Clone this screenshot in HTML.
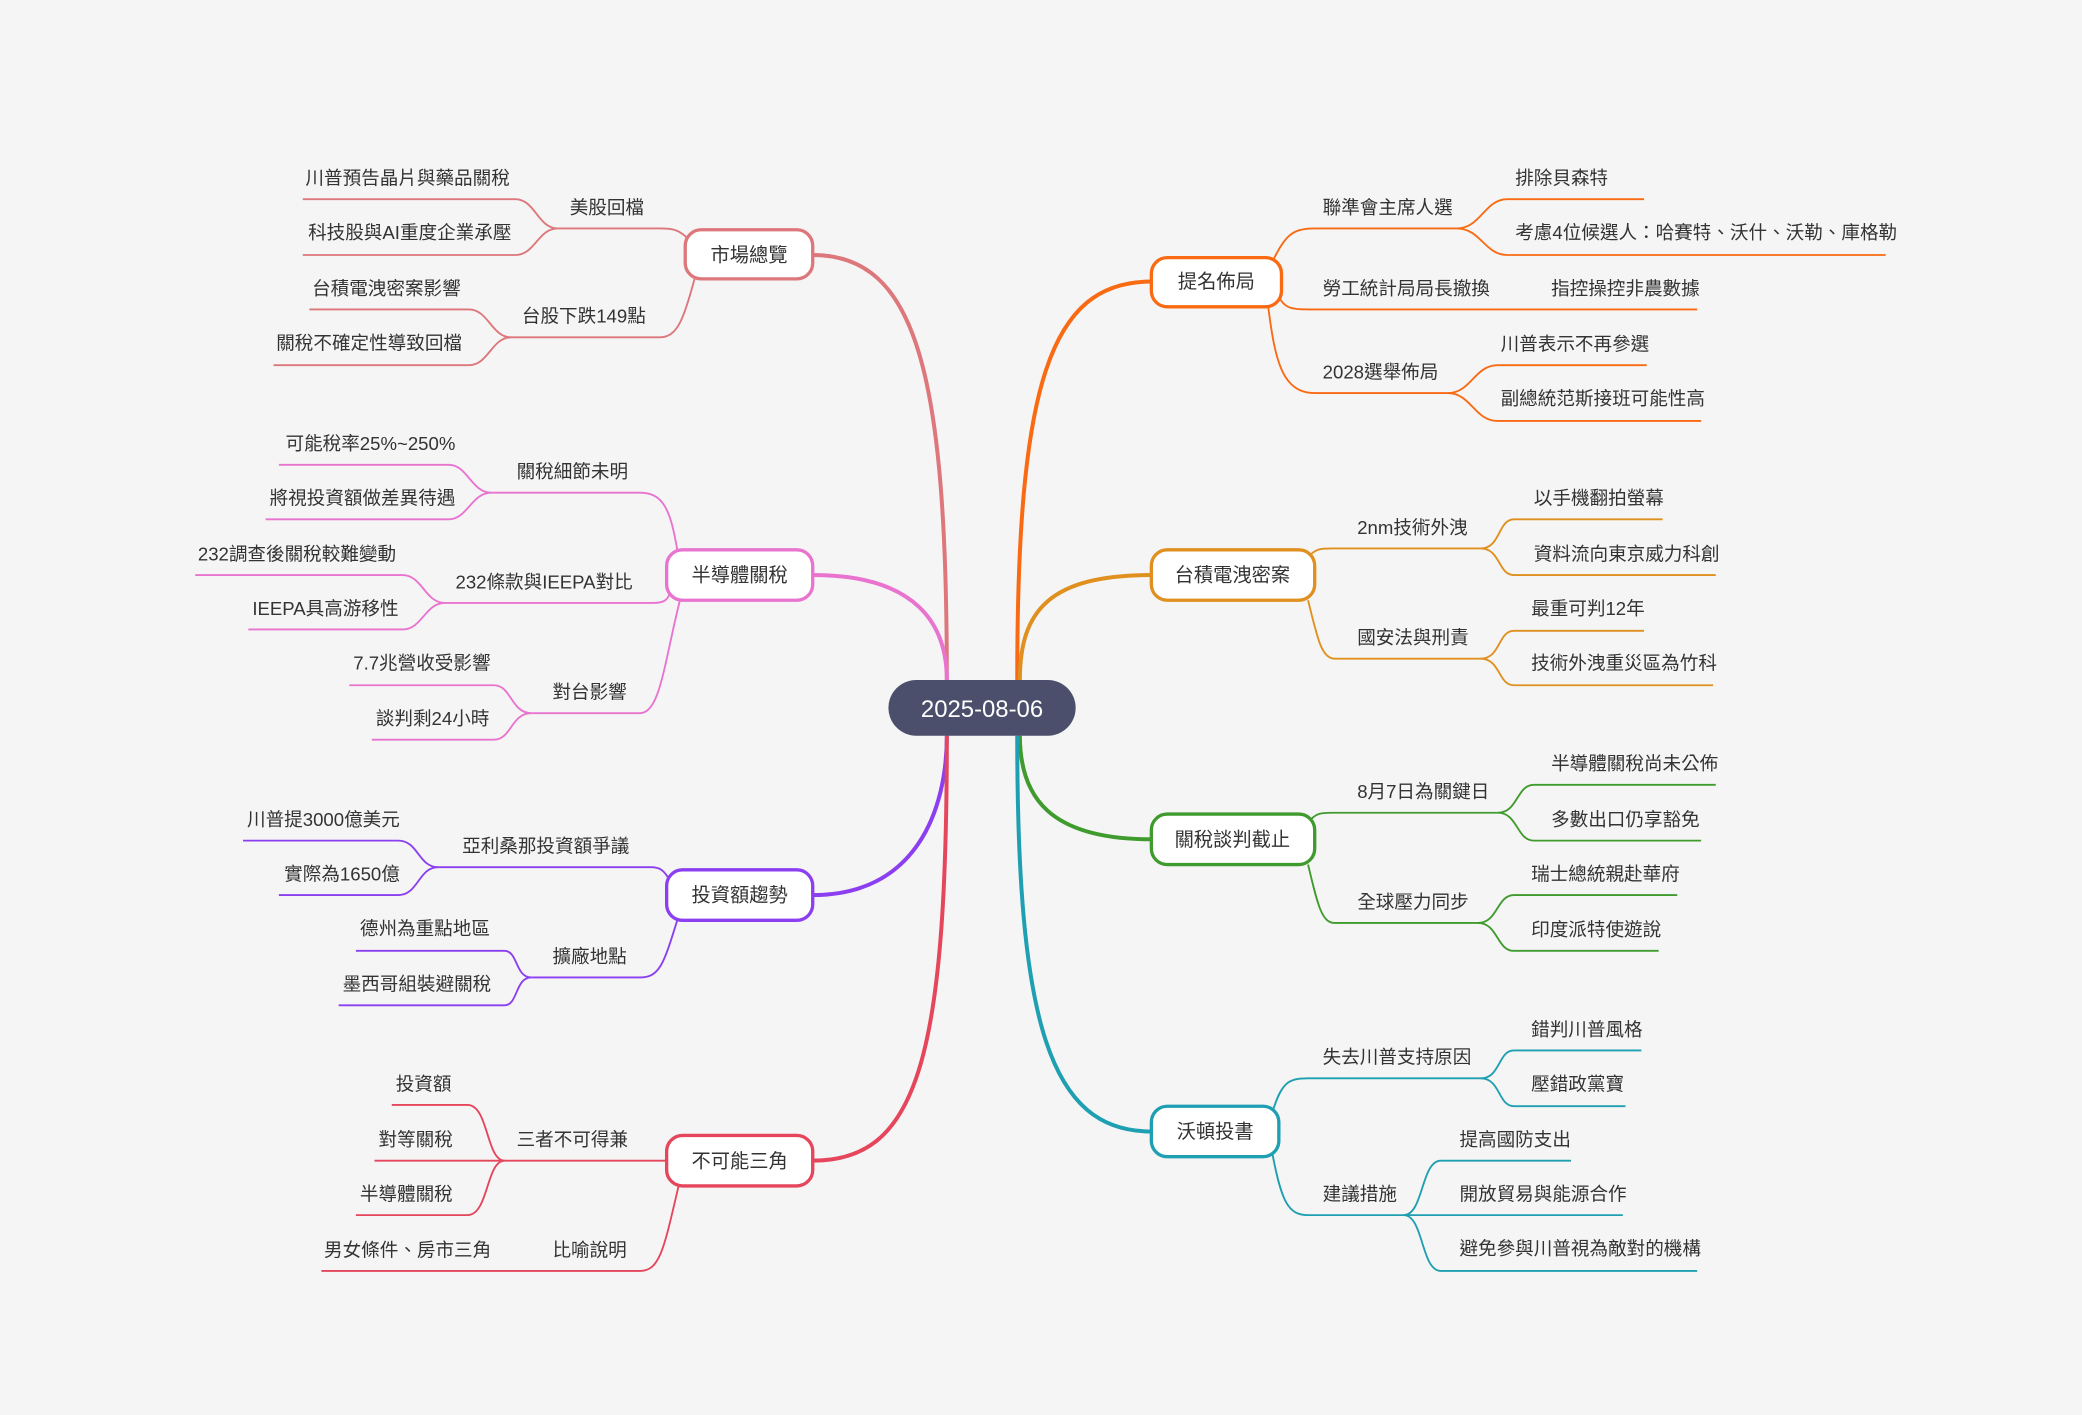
<!DOCTYPE html>
<html><head><meta charset="utf-8"><style>
html,body{margin:0;padding:0;background:#f5f5f5;}
svg{display:block;}
text{font-family:"Liberation Sans","Noto Sans CJK TC",sans-serif;font-size:14px;fill:#333;}
.n{font-size:14.5px;text-anchor:middle;}
path{fill:none;}
</style></head><body>
<svg width="2082" height="1415" viewBox="0 0 1567.8 1065.5" xmlns="http://www.w3.org/2000/svg">
<rect width="1567.8" height="1065.5" fill="#f5f5f5"/>

<g stroke="#f96a13">
<path d="M766,512 C766,290 790,212 867,212" stroke-width="3"/>
<g stroke-width="1.4">
<path d="M958,197 C968,178 972,172 990,172 H1097"/>
<path d="M1097,172 C1115,172 1118,150 1135,150 H1238"/>
<path d="M1097,172 C1115,172 1118,192 1135,192 H1420"/>
<path d="M962,222 C968,233 972,233 990,233 H1278"/>
<path d="M955,231 C960,270 965,296 990,296 H1090"/>
<path d="M1090,296 C1108,296 1110,275 1128,275 H1240"/>
<path d="M1090,296 C1108,296 1110,317 1128,317 H1281"/>
</g>
<rect x="867" y="194" width="98" height="37" rx="12" fill="#fff" stroke-width="2.5"/>
</g>
<text class="n" x="916" y="217">提名佈局</text>
<text x="996" y="161">聯準會主席人選</text>
<text x="1141" y="139">排除貝森特</text>
<text x="1141" y="180">考慮4位候選人：哈賽特、沃什、沃勒、庫格勒</text>
<text x="996" y="222">勞工統計局局長撤換</text>
<text x="1168" y="222">指控操控非農數據</text>
<text x="996" y="285">2028選舉佈局</text>
<text x="1130" y="264">川普表示不再參選</text>
<text x="1130" y="305">副總統范斯接班可能性高</text>

<g stroke="#e0901f">
<path d="M768,512 C768,460 790,433 867,433" stroke-width="3"/>
<g stroke-width="1.4">
<path d="M985,420 C990,413 995,413 1003,413 H1115"/>
<path d="M1115,413 C1130,413 1128,391 1140,391 H1252"/>
<path d="M1115,413 C1130,413 1128,433 1140,433 H1292"/>
<path d="M985,452 C992,480 995,496 1005,496 H1115"/>
<path d="M1115,496 C1130,496 1128,475 1140,475 H1238"/>
<path d="M1115,496 C1130,496 1128,516 1140,516 H1290"/>
</g>
<rect x="867" y="414" width="123" height="38" rx="12" fill="#fff" stroke-width="2.5"/>
</g>
<text class="n" x="928" y="438">台積電洩密案</text>
<text x="1022" y="402">2nm技術外洩</text>
<text x="1155" y="380">以手機翻拍螢幕</text>
<text x="1155" y="422">資料流向東京威力科創</text>
<text x="1022" y="485">國安法與刑責</text>
<text x="1153" y="463">最重可判12年</text>
<text x="1153" y="504">技術外洩重災區為竹科</text>

<g stroke="#3f9b2e">
<path d="M768,554 C768,600 790,632 867,632" stroke-width="3"/>
<g stroke-width="1.4">
<path d="M985,620 C990,612 995,612 1003,612 H1128"/>
<path d="M1128,612 C1143,612 1142,591 1155,591 H1292"/>
<path d="M1128,612 C1143,612 1142,633 1155,633 H1281"/>
<path d="M985,651 C992,680 995,695 1005,695 H1113"/>
<path d="M1113,695 C1128,695 1127,674 1140,674 H1263"/>
<path d="M1113,695 C1128,695 1127,716 1140,716 H1249"/>
</g>
<rect x="867" y="613" width="123" height="38" rx="12" fill="#fff" stroke-width="2.5"/>
</g>
<text class="n" x="928" y="637">關稅談判截止</text>
<text x="1022" y="601">8月7日為關鍵日</text>
<text x="1168" y="580">半導體關稅尚未公佈</text>
<text x="1168" y="622">多數出口仍享豁免</text>
<text x="1022" y="684">全球壓力同步</text>
<text x="1153" y="663">瑞士總統親赴華府</text>
<text x="1153" y="705">印度派特使遊說</text>

<g stroke="#1f9fb2">
<path d="M766,554 C766,770 790,852 867,852" stroke-width="3"/>
<g stroke-width="1.4">
<path d="M958,838 C965,815 970,812 985,812 H1115"/>
<path d="M1115,812 C1130,812 1128,791 1140,791 H1236"/>
<path d="M1115,812 C1130,812 1128,833 1140,833 H1224"/>
<path d="M958,868 C965,905 970,915 985,915 H1057"/>
<path d="M1057,915 C1072,915 1070,874 1085,874 H1183"/>
<path d="M1057,915 H1222"/>
<path d="M1057,915 C1072,915 1070,957 1085,957 H1278"/>
</g>
<rect x="867" y="833" width="96" height="38" rx="12" fill="#fff" stroke-width="2.5"/>
</g>
<text class="n" x="915" y="857">沃頓投書</text>
<text x="996" y="801">失去川普支持原因</text>
<text x="1153" y="780">錯判川普風格</text>
<text x="1153" y="821">壓錯政黨寶</text>
<text x="996" y="904">建議措施</text>
<text x="1099" y="863">提高國防支出</text>
<text x="1099" y="904">開放貿易與能源合作</text>
<text x="1099" y="945">避免參與川普視為敵對的機構</text>

<g stroke="#dd777b">
<path d="M713,512 C713,280 690,192 612,192" stroke-width="3"/>
<g stroke-width="1.4">
<path d="M520,182 C512,172 505,172 497,172 H420"/>
<path d="M420,172 C405,172 403,150 388,150 H228"/>
<path d="M420,172 C405,172 403,192 388,192 H228"/>
<path d="M523,210 C515,240 510,254 497,254 H385"/>
<path d="M385,254 C370,254 368,233 353,233 H233"/>
<path d="M385,254 C370,254 368,275 353,275 H206"/>
</g>
<rect x="516" y="173" width="96" height="37" rx="12" fill="#fff" stroke-width="2.5"/>
</g>
<text class="n" x="564" y="197">市場總覽</text>
<text x="429" y="161">美股回檔</text>
<text x="230" y="139">川普預告晶片與藥品關稅</text>
<text x="232" y="180">科技股與AI重度企業承壓</text>
<text x="393" y="243">台股下跌149點</text>
<text x="235" y="222">台積電洩密案影響</text>
<text x="208" y="263">關稅不確定性導致回檔</text>

<g stroke="#e874cf">
<path d="M713,512 C713,470 690,433 612,433" stroke-width="3"/>
<g stroke-width="1.4">
<path d="M510,414 C505,385 500,371 482,371 H370"/>
<path d="M370,371 C355,371 352,350 338,350 H210"/>
<path d="M370,371 C355,371 352,391 338,391 H200"/>
<path d="M505,445 C503,452 500,454 492,454 H335"/>
<path d="M335,454 C320,454 318,433 303,433 H147"/>
<path d="M335,454 C320,454 318,474 303,474 H187"/>
<path d="M512,452 C500,500 497,537 482,537 H400"/>
<path d="M400,537 C385,537 385,516 372,516 H263"/>
<path d="M400,537 C385,537 385,557 372,557 H280"/>
</g>
<rect x="502" y="414" width="110" height="38" rx="12" fill="#fff" stroke-width="2.5"/>
</g>
<text class="n" x="557" y="438">半導體關稅</text>
<text x="389" y="360">關稅細節未明</text>
<text x="215" y="339">可能稅率25%~250%</text>
<text x="203" y="380">將視投資額做差異待遇</text>
<text x="343" y="443">232條款與IEEPA對比</text>
<text x="149" y="422">232調查後關稅較難變動</text>
<text x="190" y="463">IEEPA具高游移性</text>
<text x="416" y="526">對台影響</text>
<text x="266" y="504">7.7兆營收受影響</text>
<text x="283" y="546">談判剩24小時</text>

<g stroke="#8b3ff0">
<path d="M713,554 C713,610 690,674 612,674" stroke-width="3"/>
<g stroke-width="1.4">
<path d="M505,664 C500,655 497,653 490,653 H330"/>
<path d="M330,653 C315,653 315,633 300,633 H183"/>
<path d="M330,653 C315,653 315,674 300,674 H210"/>
<path d="M510,693 C500,725 497,736 482,736 H400"/>
<path d="M400,736 C388,736 390,716 380,716 H268"/>
<path d="M400,736 C388,736 390,757 380,757 H255"/>
</g>
<rect x="502" y="655" width="110" height="38" rx="12" fill="#fff" stroke-width="2.5"/>
</g>
<text class="n" x="557" y="679">投資額趨勢</text>
<text x="348" y="642">亞利桑那投資額爭議</text>
<text x="186" y="622">川普提3000億美元</text>
<text x="214" y="663">實際為1650億</text>
<text x="416" y="725">擴廠地點</text>
<text x="271" y="704">德州為重點地區</text>
<text x="258" y="746">墨西哥組裝避關稅</text>

<g stroke="#e5465c">
<path d="M713,554 C713,800 690,874 612,874" stroke-width="3"/>
<g stroke-width="1.4">
<path d="M502,874 H380"/>
<path d="M380,874 C366,874 368,832 352,832 H295"/>
<path d="M380,874 H282"/>
<path d="M380,874 C366,874 368,915 352,915 H268"/>
<path d="M511,893 C500,940 497,957 482,957 H242"/>
</g>
<rect x="502" y="855" width="110" height="38" rx="12" fill="#fff" stroke-width="2.5"/>
</g>
<text class="n" x="557" y="879">不可能三角</text>
<text x="389" y="863">三者不可得兼</text>
<text x="298" y="821">投資額</text>
<text x="285" y="863">對等關稅</text>
<text x="271" y="904">半導體關稅</text>
<text x="416" y="946">比喻說明</text>
<text x="244" y="946">男女條件、房市三角</text>

<rect x="669" y="512" width="141" height="42" rx="21" fill="#4b4f6b"/>
<text x="739.5" y="540" style="font-size:18px;fill:#fff;text-anchor:middle;">2025-08-06</text>
</svg>
</body></html>
